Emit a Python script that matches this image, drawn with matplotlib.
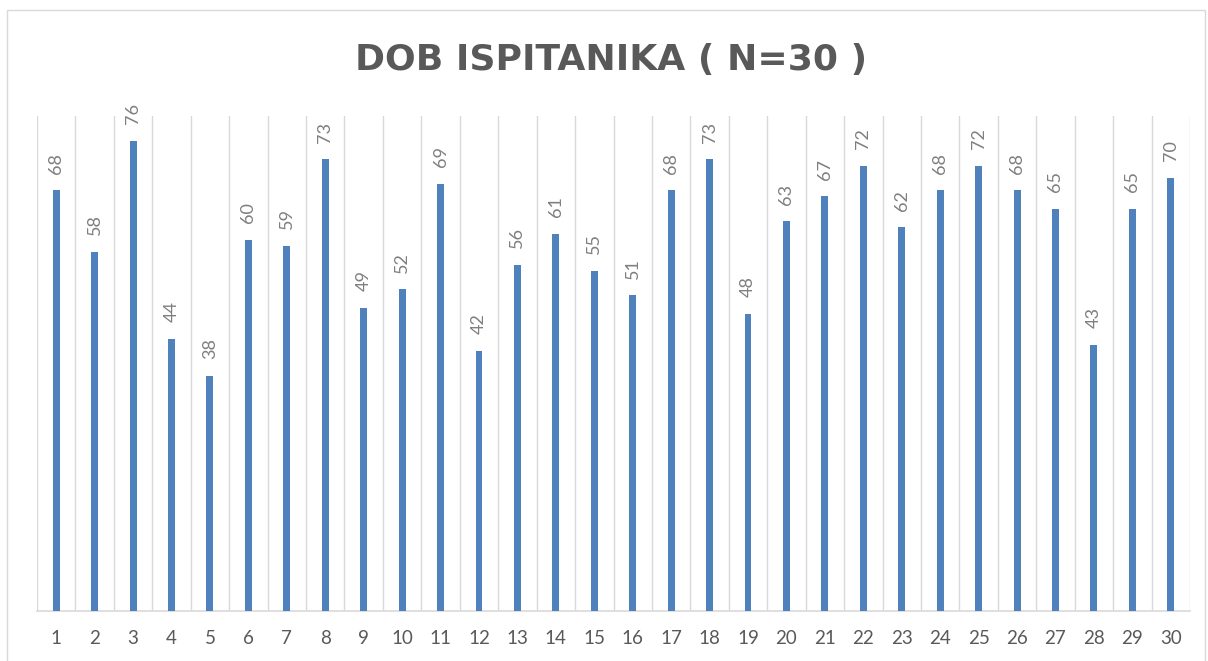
import matplotlib.pyplot as plt
import numpy as np
from matplotlib.patches import Rectangle

# respondent number and age
respondents = [str(i) for i in range(1, 31)]
ages = [68, 58, 76, 44, 38, 60, 59, 73, 49, 52, 69, 42, 56, 61, 55,
        51, 68, 73, 48, 63, 67, 72, 62, 68, 72, 68, 65, 43, 65, 70]
title = "DOB ISPITANIKA ( N=30 )"

BAR = "#4F81BD"
GRID = "#D9D9D9"
TEXT = "#595959"
LABEL = "#7F7F7F"

plt.rcParams["font.family"] = ["Lato", "DejaVu Sans"]

fig = plt.figure(figsize=(12.08, 6.61), dpi=100)
fig.patches.append(Rectangle((7 / 1208, -0.01), 1198 / 1208, 1 - 10 / 661 + 0.01,
                             transform=fig.transFigure, fill=False,
                             edgecolor=GRID, linewidth=1))
ax = fig.add_axes([37 / 1208, 50 / 661, 1153 / 1208, 495 / 661])

x = np.arange(len(ages))
bars = ax.bar(x, ages, width=0.18, color=BAR, zorder=3)

ax.set_xlim(-0.5, len(ages) - 0.5)
ax.set_ylim(0, 80)
ax.set_xticks(x)
ax.set_xticklabels(respondents, fontsize=13.5, color=TEXT)
ax.set_xticks(np.arange(-0.5, len(ages), 1), minor=True)
ax.tick_params(axis="x", which="both", length=0, pad=14)
ax.set_yticks([])
ax.grid(which="minor", axis="x", color=GRID, linewidth=1, zorder=0)
for side in ["top", "left", "right"]:
    ax.spines[side].set_visible(False)
ax.spines["bottom"].set_color(GRID)
ax.spines["bottom"].set_linewidth(1.2)

for bar, v in zip(bars, ages):
    ax.annotate(str(v), xy=(bar.get_x() + bar.get_width() / 2, v),
                xytext=(0, 12), textcoords="offset points",
                rotation=90, ha="center", va="bottom",
                fontsize=13, color=LABEL)

fig.text(611 / 1208, 1 - 60 / 661, title, ha="center", va="center",
         fontsize=26, fontweight="bold", color=TEXT,
         family=["DejaVu Sans"])

fig.savefig("out.png", dpi=100, facecolor="white")
